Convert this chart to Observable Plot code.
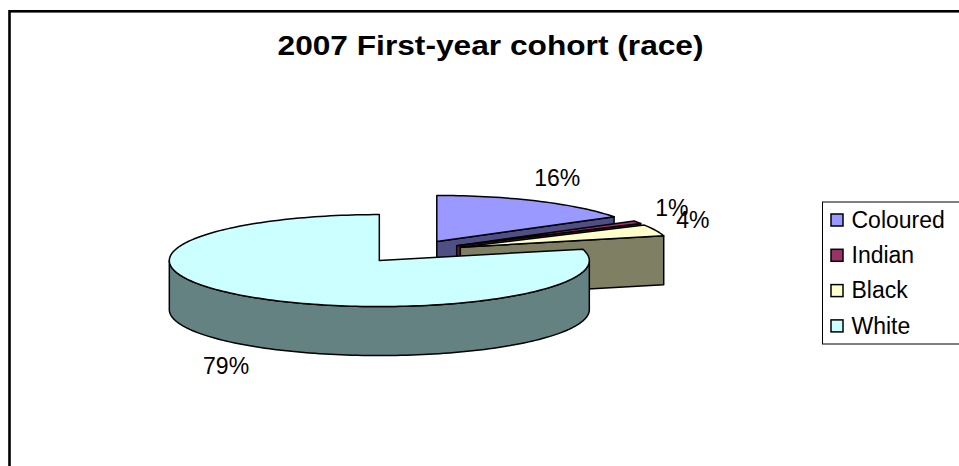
<!DOCTYPE html>
<html><head><meta charset="utf-8">
<script src="https://cdn.jsdelivr.net/npm/d3@7"></script>
<script src="https://cdn.jsdelivr.net/npm/@observablehq/plot@0.6"></script>
<style>
html,body{margin:0;padding:0;background:#fff;overflow:hidden}
#chart svg{display:block;overflow:hidden}
</style>
</head><body><div id="chart"></div>
<script>
// ---- data ----
const categories = ["Coloured", "Indian", "Black", "White"];
const values = [16, 1, 4, 79];
const valueLabels = ["16%", "1%", "4%", "79%"];
const topColors = ["#9999FF", "#993366", "#FFFFCC", "#CCFFFF"];
const sideColors = ["#4F4F85", "#5A1F3D", "#7F7F64", "#648282"];
const chartTitle = "2007 First-year cohort (race)";

// ---- layout ----
const W = 959, H = 466;
const cx = 411, cy = 251, rx = 210, ry = 46, depth = 49, explode = 0.25;
const labA = 40, labB = 26;
const font = "'Liberation Sans', Arial, sans-serif";

const arcs = d3.pie().sort(null).startAngle(0).endAngle(2 * Math.PI)(values);

function P(ax, ay, t, dz) {
  return {x: ax + rx * Math.sin(t), y: ay - ry * Math.cos(t) + dz};
}
function arcPts(ax, ay, a, b, dz) {
  const n = Math.max(2, Math.ceil(Math.abs(b - a) / (Math.PI / 120)));
  const pts = [];
  for (let k = 0; k <= n; k++) pts.push(P(ax, ay, a + (b - a) * k / n, dz));
  return pts;
}

const faces = [];
let fid = 0;
function addFace(pts, fill) {
  const id = fid++;
  pts.forEach(p => faces.push({face: id, x: p.x, y: p.y, fill}));
  faces.push({face: id, x: pts[0].x, y: pts[0].y, fill});
}

const slices = arcs.map((a, i) => {
  const m = (a.startAngle + a.endAngle) / 2;
  return {i, s: a.startAngle, e: a.endAngle, m,
    ax: cx + explode * rx * Math.sin(m),
    ay: cy - explode * ry * Math.cos(m)};
});
const order = slices.slice().sort((a, b) => Math.cos(b.m) - Math.cos(a.m));

for (const sl of order) {
  const {ax, ay, s, e, i} = sl;
  const side = sideColors[i];
  // radial cut faces
  if (-Math.sin(s) > 1e-6) {
    const o = P(ax, ay, s, 0), ob = P(ax, ay, s, depth);
    addFace([{x: ax, y: ay}, o, ob, {x: ax, y: ay + depth}], side);
  }
  if (Math.sin(e) > 1e-6) {
    const o = P(ax, ay, e, 0), ob = P(ax, ay, e, depth);
    addFace([{x: ax, y: ay}, o, ob, {x: ax, y: ay + depth}], side);
  }
  // outer wall (front half only)
  const a0 = Math.max(s, Math.PI / 2), a1 = Math.min(e, 3 * Math.PI / 2);
  if (a1 > a0) {
    const topArc = arcPts(ax, ay, a0, a1, 0);
    const botArc = arcPts(ax, ay, a1, a0, depth);
    addFace(topArc.concat(botArc), side);
  }
  // top face
  addFace([{x: ax, y: ay}].concat(arcPts(ax, ay, s, e, 0)), topColors[i]);
}

const labelData = slices.map(sl => {
  const sn = Math.sin(sl.m), cs = Math.cos(sl.m);
  return {
    text: valueLabels[sl.i],
    x: sl.ax + (rx + labA) * sn,
    y: sl.ay - (ry + labB) * cs + (cs < 0 ? depth : 0)
  };
});

const legendTop = 202, legendStep = 35.3;
const legendRows = categories.map((c, i) => ({
  name: c, fill: topColors[i],
  y: legendTop + 18 + i * legendStep
}));

const plot = Plot.plot({
  width: W, height: H,
  margin: 0,
  x: {domain: [0, W], range: [0, W], axis: null},
  y: {domain: [0, H], range: [0, H], axis: null},
  color: {type: "identity"},
  style: {fontFamily: font, background: "#fff", overflow: "hidden"},
  marks: [
    // outer chart border (continues past the window)
    Plot.rect([0], {x1: 9.5, y1: 11.3, x2: W + 40, y2: H + 40, fill: "none", stroke: "#000", strokeWidth: 2.6}),
    Plot.text([chartTitle], {x: 490, y: 46, text: d => d, fontSize: 27, fontWeight: "bold", fill: "#000", textAnchor: "middle"}),
    // pie faces
    Plot.line(faces, {x: "x", y: "y", z: "face", fill: "fill", stroke: "#000", strokeWidth: 1.5, curve: "linear", strokeLinejoin: "round"}),
    Plot.text(labelData, {x: "x", y: "y", text: "text", fontSize: 23, fill: "#000", textAnchor: "middle"}),
    // legend
    Plot.rect([0], {x1: 822.5, y1: legendTop, x2: W + 40, y2: 344, fill: "#fff", stroke: "#000", strokeWidth: 1}),
    Plot.rect(legendRows, {x1: 831, x2: 843, y1: d => d.y - 6, y2: d => d.y + 6, fill: "fill", stroke: "#000", strokeWidth: 1.5}),
    Plot.text(legendRows, {x: 851, y: "y", text: "name", fontSize: 23, fill: "#000", textAnchor: "start"})
  ]
});
document.getElementById("chart").appendChild(plot);
// stretch title to match reference width
const t = Array.from(plot.querySelectorAll("text")).find(n => n.textContent === chartTitle);
if (t) { t.setAttribute("textLength", 426); t.setAttribute("lengthAdjust", "spacingAndGlyphs"); }
</script>
</body></html>
